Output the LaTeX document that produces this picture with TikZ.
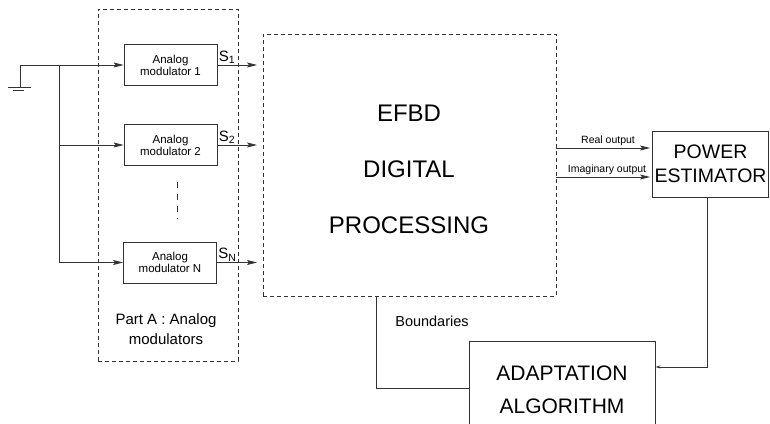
\documentclass[tikz,border=0pt]{standalone}
\usepackage{fontspec}
\setmainfont{Liberation Sans}
\usetikzlibrary{arrows.meta}

\begin{document}
\begin{tikzpicture}[x=1pt,y=-1pt,
    wire/.style={draw=black!80,line width=0.8pt},
    arr/.style={wire,-{Stealth[length=10pt,width=5pt,inset=2pt]}},
    thinarr/.style={wire,-{Stealth[length=5pt,width=3pt,open]}},
    grp/.style={draw=black!80,line width=0.7pt,dash pattern=on 4pt off 3pt},
    blk/.style={wire,minimum width=93pt,minimum height=41pt,align=center,
        font=\fontsize{11.5}{12}\selectfont},
    bigblk/.style={wire,align=center,inner sep=0pt}]
    \useasboundingbox (0,0) rectangle (770,423);

    \node[grp,minimum width=140pt,minimum height=352pt] (PA) at (168,185) {};
    \node[grp,minimum width=293pt,minimum height=262pt] (EF) at (409.5,165) {};

    \node[blk] (M1) at (170.5,65)  {Analog\\modulator 1};
    \node[blk] (M2) at (170.5,145) {Analog\\modulator 2};
    \node[blk] (MN) at (170,262.5) {Analog\\modulator N};

    \node[align=center,font=\fontsize{15}{20}\selectfont] (PAlbl) at (166,329)
        {Part A : Analog\\modulators};
    \node[align=center,font=\fontsize{24}{56}\selectfont] (EFlbl) at (409,169)
        {EFBD\\DIGITAL\\PROCESSING};

    \node[bigblk,minimum width=116pt,minimum height=66pt,
        font=\fontsize{19.5}{24}\selectfont] (PE) at (710.5,164) {POWER\\ESTIMATOR};
    \node[bigblk,minimum width=186pt,minimum height=98pt,
        font=\fontsize{21}{33}\selectfont] (AD) at (562,390) {ADAPTATION\\ALGORITHM};
    \node[font=\fontsize{14.5}{16}\selectfont] (BL) at (432,321) {Boundaries};

    \coordinate (G)  at (20,65);
    \coordinate (GB) at (20,87);
    \coordinate (T1) at (59,65);
    \coordinate (T2) at (59,145);
    \coordinate (TN) at (59,262.5);
    \coordinate (E1) at (257,65);
    \coordinate (E2) at (257,145);
    \coordinate (EN) at (257,262.5);
    \coordinate (D1) at (177,182);
    \coordinate (D2) at (177,219);
    \coordinate (RO) at (556,148);
    \coordinate (IO) at (556,177);
    \coordinate (C1) at (707,367);
    \coordinate (B1) at (376,388);

    \draw[wire] (G) -- (GB);
    \draw[wire] (8,87) -- (31,87);
    \draw[wire] (13,90.5) -- (24,90.5);
    \draw[arr] (G) -- (M1.west);
    \draw[wire] (T1) -- (TN);
    \draw[arr] (T2) -- (T2 -| M2.west);
    \draw[arr] (TN) -- (TN -| MN.west);
    \draw[wire,dash pattern=on 6pt off 6pt] (D1) -- (D2);

    \draw[arr] (E1 -| M1.east) -- node[pos=0,above right,inner sep=1pt,
        font=\fontsize{15}{16}\selectfont] {S\textsubscript{1}} (E1);
    \draw[arr] (E2 -| M2.east) -- node[pos=0,above right,inner sep=1pt,
        font=\fontsize{15}{16}\selectfont] {S\textsubscript{2}} (E2);
    \draw[arr] (EN -| MN.east) -- node[pos=0,above right,inner sep=1pt,
        font=\fontsize{15}{16}\selectfont] {S\textsubscript{N}} (EN);

    \draw[arr,shorten >=2pt] (RO) -- node[above,xshift=4pt,inner sep=2pt,
        font=\fontsize{10.5}{12}\selectfont] {Real output} (RO -| PE.west);
    \draw[arr,shorten >=2pt] (IO) -- node[above,xshift=3pt,inner sep=2pt,
        font=\fontsize{10.5}{12}\selectfont] {Imaginary output} (IO -| PE.west);

    \draw[thinarr] (PE.south -| C1) -- (C1) -- (C1 -| AD.east);
    \draw[wire] (EF.south -| B1) -- (B1) -- (B1 -| AD.west);
\end{tikzpicture}
\end{document}
